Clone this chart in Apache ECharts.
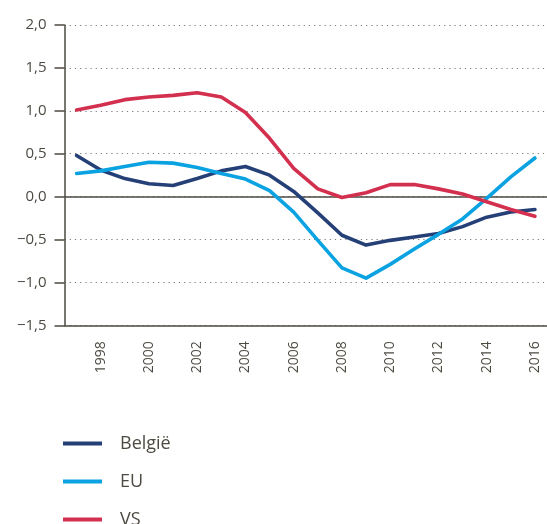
<!DOCTYPE html>
<html><head><meta charset="utf-8">
<script src="https://cdn.jsdelivr.net/npm/echarts@6/dist/echarts.min.js"></script>
<style>html,body{margin:0;padding:0;background:#fff}#c{width:547px;height:524px}</style>
</head><body><div id="c"></div>
<script>
var years = ['1997','1998','1999','2000','2001','2002','2003','2004','2005','2006','2007','2008','2009','2010','2011','2012','2013','2014','2015','2016'];
var belgie = [0.48,0.31,0.21,0.15,0.13,0.21,0.30,0.35,0.25,0.06,-0.19,-0.45,-0.565,-0.51,-0.47,-0.43,-0.35,-0.24,-0.18,-0.15];
var eu = [0.27,0.30,0.35,0.40,0.39,0.34,0.27,0.205,0.07,-0.18,-0.51,-0.83,-0.95,-0.79,-0.61,-0.44,-0.26,-0.02,0.23,0.45];
var vs = [1.01,1.065,1.13,1.16,1.18,1.21,1.16,0.98,0.68,0.33,0.09,-0.01,0.045,0.14,0.14,0.09,0.03,-0.06,-0.15,-0.23];
var seriesNames = ['België','EU','VS'];
var yTicks = {min:-1.5, max:2.0, step:0.5};

var ink = '#4d4a42';
var font = '"Open Sans", "Noto Sans", sans-serif';
var colors = ['#253f77','#0aa2e0','#d3304f'];
var chart = echarts.init(document.getElementById('c'), null, {renderer:'canvas'});
function mk(name, data, i, extra){
  var s = {name:name, type:'line', data:data, symbol:'none', smooth:false,
    lineStyle:{color:colors[i], width:3.6, cap:'round', join:'round'}, itemStyle:{color:colors[i]}, z:3};
  if (extra) for (var k in extra) s[k]=extra[k];
  return s;
}
chart.setOption({
  animation:false,
  grid:{left:64.5, top:25, width:490, height:300.3},
  legend:{orient:'vertical', left:58, top:428.5, height:110, itemWidth:39, itemHeight:4, itemGap:18, icon:'rect',
    textStyle:{fontFamily:font, fontSize:18, color:ink, lineHeight:20, padding:[0,0,0,13]},
    data:seriesNames},
  xAxis:{type:'category', data:years, boundaryGap:true,
    axisLine:{onZero:false, lineStyle:{color:ink, width:1.5}},
    axisTick:{inside:true, length:10, interval:0, lineStyle:{color:ink, width:1.5}},
    axisLabel:{rotate:90, margin:16, color:ink, fontFamily:font, fontSize:14,
      interval:function(i){return i%2===1;}},
    splitLine:{show:false}},
  yAxis:{type:'value', min:yTicks.min, max:yTicks.max, interval:yTicks.step,
    axisLine:{show:true, lineStyle:{color:ink, width:1.5}},
    axisTick:{show:true, length:10, lineStyle:{color:ink, width:1.5}},
    axisLabel:{margin:18, color:ink, fontFamily:font, fontSize:15,
      formatter:function(v){return v.toFixed(1).replace('.',',').replace('-','\u2212');}},
    splitLine:{show:true, lineStyle:{color:'#7a7a7a', width:1.2, type:[1.2,4]}}},
  series:[
    mk(seriesNames[0], belgie, 0, {markLine:{silent:true, symbol:['none','none'], label:{show:false},
      lineStyle:{color:ink, width:1.5, type:'solid'}, z:2, data:[{yAxis:0}]}}),
    mk(seriesNames[1], eu, 1),
    mk(seriesNames[2], vs, 2)
  ]
});
</script></body></html>
